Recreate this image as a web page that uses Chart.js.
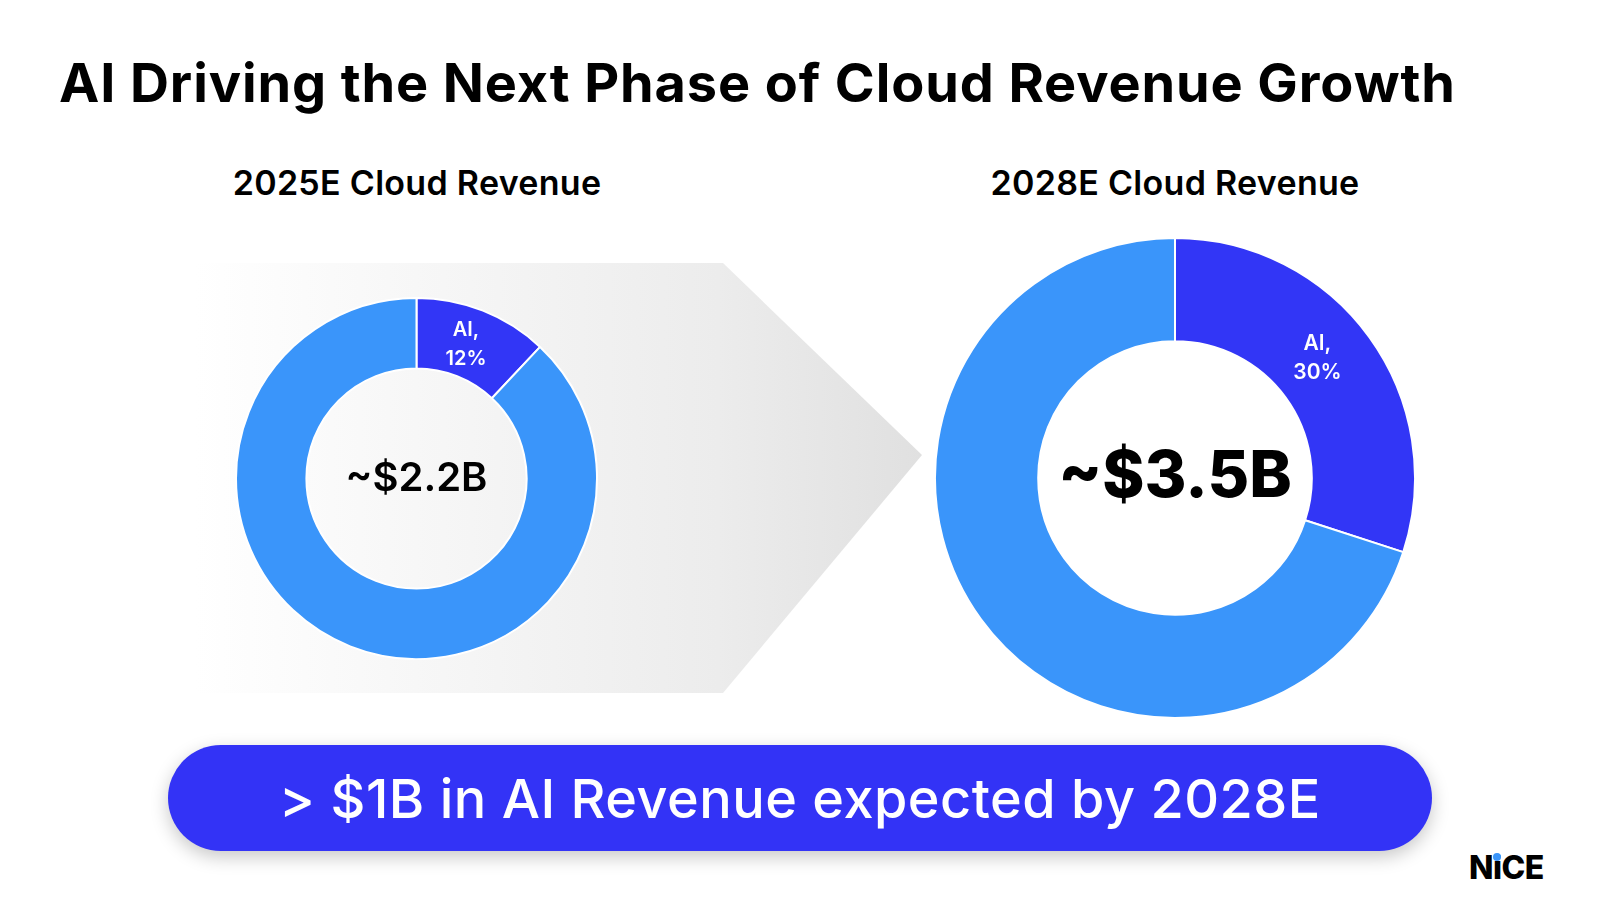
<!DOCTYPE html>
<html>
<head>
<meta charset="utf-8">
<script src="https://cdn.jsdelivr.net/npm/chart.js@4.4.1/dist/chart.umd.min.js"></script>
<style>
  html, body { margin:0; padding:0; background:#ffffff; }
  body { width:1600px; height:900px; position:relative; overflow:hidden; font-family: Inter, "Noto Sans", sans-serif; color:#000; }
  #title { position:absolute; left:59px; top:50px; font-size:54px; font-weight:700; white-space:nowrap; letter-spacing:0.9px; }
  .sub { position:absolute; top:162px; font-size:34px; font-weight:600; white-space:nowrap; transform:translateX(-50%); letter-spacing:0.3px; }
  #arrow { position:absolute; left:0; top:0; }
  #c1wrap { position:absolute; left:235px; top:297px; width:363px; height:363px; }
  #c2wrap { position:absolute; left:934px; top:237px; width:482px; height:482px; }
  #pill { position:absolute; left:168px; top:745px; width:1264px; height:106px; border-radius:53px; background:#3333F6;
          box-shadow: 0 6px 18px rgba(0,0,0,0.22); color:#fff; font-size:54px; font-weight:540; letter-spacing:0.5px; display:flex; align-items:center; justify-content:center; white-space:nowrap; }
  #logo { position:absolute; left:1469px; top:848px; font-size:32px; font-weight:800; letter-spacing:-0.5px; }
  #logo .i { position:relative; }
  #logo .i::after { content:""; position:absolute; left:50%; top:5px; width:8px; height:8px; margin-left:-4px; border-radius:50%; background:#3a95fa; }
</style>
</head>
<body>
<svg id="arrow" width="1600" height="900">
  <defs>
    <linearGradient id="g" x1="195" y1="0" x2="922" y2="0" gradientUnits="userSpaceOnUse">
      <stop offset="0" stop-color="#ffffff"/>
      <stop offset="0.72" stop-color="#ececec"/>
      <stop offset="1" stop-color="#e0e0e0"/>
    </linearGradient>
  </defs>
  <polygon points="195,263 723,263 922,455 723,693 195,693" fill="url(#g)"/>
</svg>
<div id="title">AI Driving the Next Phase of Cloud Revenue Growth</div>
<div class="sub" style="left:417px;">2025E Cloud Revenue</div>
<div class="sub" style="left:1175px;">2028E Cloud Revenue</div>
<div id="c1wrap"><canvas id="c1"></canvas></div>
<div id="c2wrap"><canvas id="c2"></canvas></div>
<div id="pill">&gt; $1B in AI Revenue expected by 2028E</div>
<div id="logo">N<span class="i">i</span>CE</div>
<script>
const categories = ['AI', 'Other'];
const share2025 = [12, 88];
const share2028 = [30, 70];
const total2025 = '~$2.2B';
const total2028 = '~$3.5B';
const colors = ['#3236F6', '#3A95FA'];

function makePlugin(total, centerFont) {
  return {
    id: 'centerAndLabels',
    afterDraw(chart) {
      const ctx = chart.ctx;
      const meta = chart.getDatasetMeta(0);
      const arc0 = meta.data[0];
      ctx.save();
      ctx.textAlign = 'center';
      ctx.textBaseline = 'middle';
      ctx.fillStyle = '#000';
      ctx.font = centerFont;
      ctx.fillText(total, arc0.x, arc0.y);
      const pos = arc0.tooltipPosition();
      const v = chart.data.datasets[0].data[0];
      ctx.fillStyle = '#ffffff';
      ctx.font = chart.options.labelFont;
      const lh = chart.options.labelLine;
      ctx.fillText(categories[0] + ',', pos.x + chart.options.labelDx, pos.y - lh/2 + chart.options.labelDy);
      ctx.fillText(v + '%', pos.x + chart.options.labelDx, pos.y + lh/2 + chart.options.labelDy);
      ctx.restore();
    }
  };
}

function makeChart(id, data, cutout, total, centerFont, labelFont, dx, dy) {
  return new Chart(document.getElementById(id), {
    type: 'doughnut',
    data: { labels: categories, datasets: [{ data: data, backgroundColor: colors, borderColor: '#ffffff', borderWidth: 2 }] },
    options: {
      responsive: true, maintainAspectRatio: false, animation: false,
      cutout: cutout, rotation: 0,
      layout: { padding: 0 },
      plugins: { legend: { display: false }, tooltip: { enabled: false }, title: { display: false } },
      labelFont: labelFont, labelLine: 29, labelDx: dx, labelDy: dy
    },
    plugins: [makePlugin(total, centerFont)]
  });
}

makeChart('c1', share2025, '61%', total2025, '600 40px Inter', '600 20px Inter', -4, 1);
makeChart('c2', share2028, '57%', total2028, '800 64px Inter', '600 21px Inter', -10, -9);
</script>
</body>
</html>
